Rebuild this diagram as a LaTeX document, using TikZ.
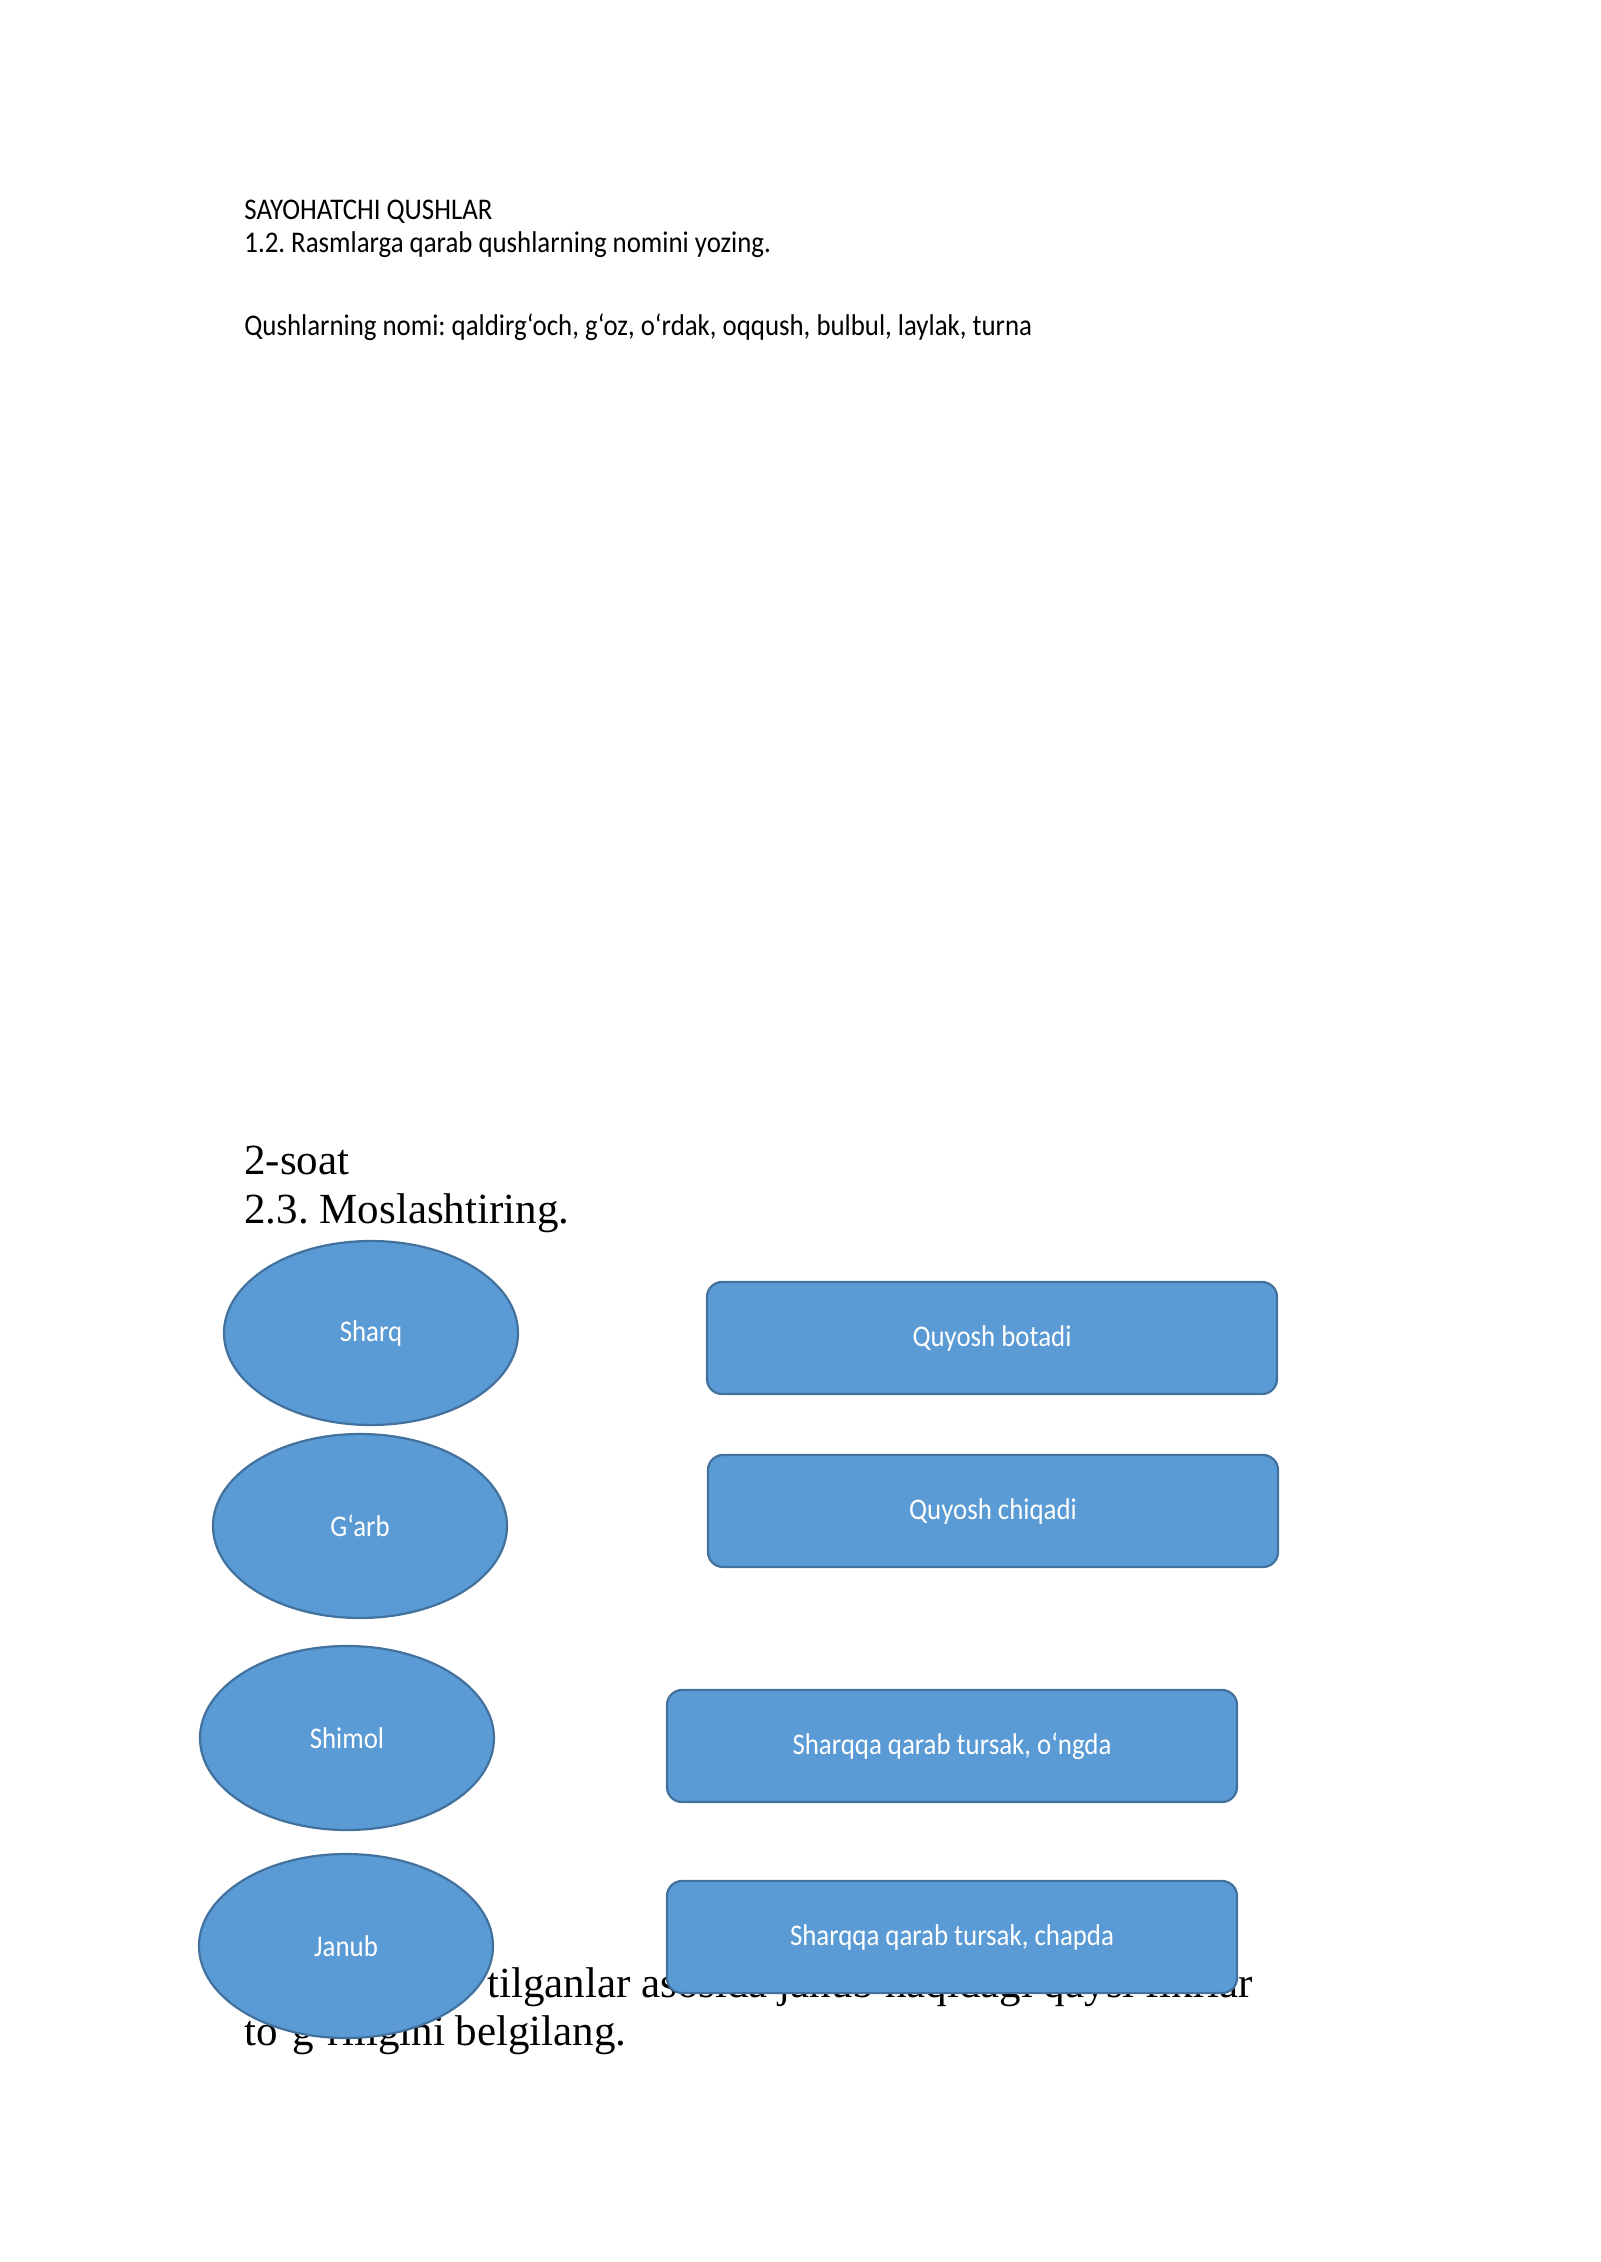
\documentclass[tikz,border=0pt]{standalone}
\usepackage{fontspec}
\setmainfont{Liberation Serif}
\newfontfamily\calfont[FakeStretch=0.895]{Carlito}
\usetikzlibrary{shapes.geometric}
\definecolor{shapefill}{HTML}{5B9BD5}
\definecolor{shapeline}{HTML}{41719C}
\frenchspacing
\tikzset{
  smalltext/.style={anchor=base west, inner sep=0pt, font=\calfont\fontsize{15}{18}\selectfont},
  bigtext/.style={anchor=base west, inner sep=0pt, font=\fontsize{21.5}{26}\selectfont},
  oval/.style={ellipse, fill=shapefill, draw=shapeline, line width=1.1pt, minimum width=147pt, minimum height=92pt, inner sep=0pt, text=white, font=\calfont\fontsize{15}{18}\selectfont},
  box/.style={rectangle, rounded corners=7.5pt, fill=shapefill, draw=shapeline, line width=1.1pt, minimum width=285pt, minimum height=56pt, inner sep=0pt, text=white, font=\calfont\fontsize{15}{18}\selectfont}
}
\begin{document}
\begin{tikzpicture}[x=0.5pt,y=-0.5pt]
\useasboundingbox[fill=white] (0,0) rectangle (1600,2262);
% header texts
\node[smalltext] (t1) at (244,220) {SAYOHATCHI QUSHLAR};
\node[smalltext] (t2) at (244,253) {1.2. Rasmlarga qarab qushlarning nomini yozing.};
\node[smalltext] (t3) at (244,336) {Qushlarning nomi: qaldirg‘och, g‘oz, o‘rdak, oqqush, bulbul, laylak, turna};
% section texts
\node[bigtext] (s1) at (244,1174) {2-soat};
\node[bigtext] (s2) at (244,1223) {2.3. Moslashtiring.};
% partially hidden paragraph
\node[bigtext] (p1) at (487,1997) {tilganlar asosida janub haqidagi qaysi fikrlar};
\node[bigtext] (p2) at (244,2045) {to‘g‘riligini belgilang.};
% ellipses
\node[oval] (e1) at (371,1333) {Sharq};
\node[oval] (e2) at (360,1526) {G‘arb};
\node[oval] (e3) at (347,1738) {Shimol};
\node[oval] (e4) at (346,1946) {Janub};
% boxes
\node[box] (r1) at (992,1338) {Quyosh botadi};
\node[box] (r2) at (993,1511) {Quyosh chiqadi};
\node[box] (r3) at (952,1746) {Sharqqa qarab tursak, o‘ngda};
\node[box] (r4) at (952,1937) {Sharqqa qarab tursak, chapda};
\end{tikzpicture}
\end{document}
